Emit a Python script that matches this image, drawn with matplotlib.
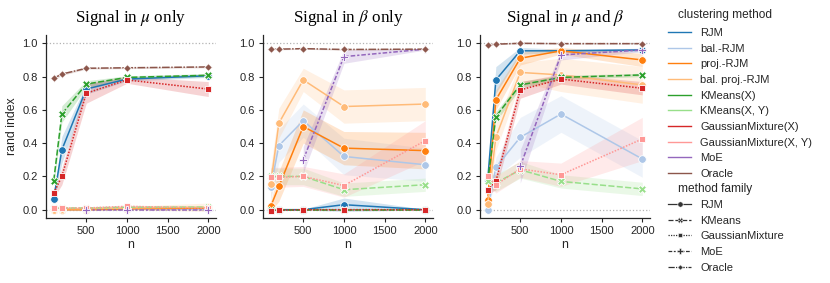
import numpy as np
import matplotlib
matplotlib.use("Agg")
from matplotlib import pyplot as plt
from matplotlib.lines import Line2D

plt.rcParams['font.family'] = ['Liberation Sans', 'DejaVu Sans']
plt.rcParams['mathtext.fontset'] = 'stix'

n_values = [100, 200, 500, 1000, 2000]

methods = ['RJM', 'bal.-RJM', 'proj.-RJM', 'bal. proj.-RJM', 'KMeans(X)', 'KMeans(X, Y)',
           'GaussianMixture(X)', 'GaussianMixture(X, Y)', 'MoE', 'Oracle']
colors = ['#1f77b4', '#aec7e8', '#ff7f0e', '#ffbb78', '#2ca02c', '#98df8a',
          '#d62728', '#ff9896', '#9467bd', '#8c564b']
families = ['RJM', 'RJM', 'RJM', 'RJM', 'KMeans', 'KMeans',
            'GaussianMixture', 'GaussianMixture', 'MoE', 'Oracle']
family_names = ['RJM', 'KMeans', 'GaussianMixture', 'MoE', 'Oracle']
family_markers = {'RJM': 'o', 'KMeans': 'X', 'GaussianMixture': (4, 0, 45), 'MoE': 'P', 'Oracle': (4, 0, 0)}
family_dashes = {'RJM': (None, None), 'KMeans': (4, 1.5), 'GaussianMixture': (1, 1),
                 'MoE': (3, 1.25, 1.5, 1.25), 'Oracle': (5, 1, 1, 1)}
family_msize = {'RJM': 5.5, 'KMeans': 5.5, 'GaussianMixture': 6.5, 'MoE': 6, 'Oracle': 5.5}

nan = np.nan

# Signal in mu only: mean rand index and CI half widths
mu_mean = {
    'RJM': [0.065, 0.36, 0.725, 0.785, 0.805],
    'bal.-RJM': [0.0, 0.0, 0.0, 0.005, 0.005],
    'proj.-RJM': [0.0, 0.0, 0.0, 0.005, 0.01],
    'bal. proj.-RJM': [0.0, 0.005, 0.005, 0.01, 0.015],
    'KMeans(X)': [0.175, 0.575, 0.755, 0.795, 0.808],
    'KMeans(X, Y)': [0.01, 0.01, 0.01, 0.015, 0.015],
    'GaussianMixture(X)': [0.10, 0.20, 0.70, 0.78, 0.725],
    'GaussianMixture(X, Y)': [0.01, 0.01, 0.01, 0.02, 0.01],
    'MoE': [nan, nan, 0.0, 0.0, 0.0],
    'Oracle': [0.79, 0.815, 0.85, 0.853, 0.858],
}
mu_ci = {
    'RJM': [0.02, 0.08, 0.03, 0.012, 0.01],
    'bal.-RJM': [0.005, 0.005, 0.005, 0.005, 0.005],
    'proj.-RJM': [0.005, 0.005, 0.005, 0.005, 0.01],
    'bal. proj.-RJM': [0.005, 0.005, 0.008, 0.01, 0.025],
    'KMeans(X)': [0.03, 0.05, 0.02, 0.01, 0.01],
    'KMeans(X, Y)': [0.005, 0.005, 0.005, 0.008, 0.008],
    'GaussianMixture(X)': [0.03, 0.05, 0.06, 0.02, 0.045],
    'GaussianMixture(X, Y)': [0.008, 0.008, 0.008, 0.008, 0.01],
    'MoE': [nan, nan, 0.002, 0.002, 0.002],
    'Oracle': [0.01, 0.008, 0.005, 0.005, 0.005],
}

# Signal in beta only
beta_mean = {
    'RJM': [0.0, 0.0, 0.0, 0.03, 0.0],
    'bal.-RJM': [0.135, 0.385, 0.535, 0.32, 0.27],
    'proj.-RJM': [0.02, 0.14, 0.50, 0.37, 0.355],
    'bal. proj.-RJM': [0.155, 0.52, 0.78, 0.62, 0.635],
    'KMeans(X)': [0.0, 0.0, 0.0, 0.0, 0.0],
    'KMeans(X, Y)': [0.20, 0.20, 0.20, 0.12, 0.15],
    'GaussianMixture(X)': [-0.005, -0.003, 0.0, 0.0, 0.0],
    'GaussianMixture(X, Y)': [0.195, 0.195, 0.20, 0.145, 0.415],
    'MoE': [nan, nan, 0.30, 0.92, 0.965],
    'Oracle': [0.965, 0.965, 0.968, 0.963, 0.965],
}
beta_ci = {
    'RJM': [0.002, 0.002, 0.003, 0.04, 0.002],
    'bal.-RJM': [0.08, 0.1, 0.1, 0.11, 0.1],
    'proj.-RJM': [0.03, 0.09, 0.1, 0.1, 0.11],
    'bal. proj.-RJM': [0.1, 0.09, 0.07, 0.1, 0.1],
    'KMeans(X)': [0.002, 0.002, 0.002, 0.002, 0.002],
    'KMeans(X, Y)': [0.05, 0.05, 0.05, 0.04, 0.04],
    'GaussianMixture(X)': [0.003, 0.003, 0.003, 0.003, 0.003],
    'GaussianMixture(X, Y)': [0.06, 0.06, 0.06, 0.07, 0.12],
    'MoE': [nan, nan, 0.08, 0.04, 0.005],
    'Oracle': [0.004, 0.004, 0.004, 0.004, 0.004],
}

# Signal in mu and beta
both_mean = {
    'RJM': [0.18, 0.78, 0.955, 0.955, 0.96],
    'bal.-RJM': [0.0, 0.255, 0.435, 0.575, 0.305],
    'proj.-RJM': [0.06, 0.66, 0.91, 0.955, 0.90],
    'bal. proj.-RJM': [0.035, 0.435, 0.825, 0.81, 0.75],
    'KMeans(X)': [0.17, 0.56, 0.75, 0.795, 0.81],
    'KMeans(X, Y)': [0.17, 0.16, 0.24, 0.17, 0.125],
    'GaussianMixture(X)': [0.12, 0.17, 0.72, 0.785, 0.73],
    'GaussianMixture(X, Y)': [0.20, 0.15, 0.245, 0.21, 0.425],
    'MoE': [nan, nan, 0.26, 0.93, 0.96],
    'Oracle': [0.99, 0.995, 1.0, 0.998, 0.998],
}
both_ci = {
    'RJM': [0.05, 0.08, 0.02, 0.01, 0.01],
    'bal.-RJM': [0.01, 0.06, 0.12, 0.11, 0.11],
    'proj.-RJM': [0.03, 0.06, 0.04, 0.02, 0.04],
    'bal. proj.-RJM': [0.02, 0.08, 0.06, 0.1, 0.11],
    'KMeans(X)': [0.02, 0.03, 0.02, 0.012, 0.01],
    'KMeans(X, Y)': [0.04, 0.05, 0.05, 0.04, 0.04],
    'GaussianMixture(X)': [0.03, 0.05, 0.05, 0.03, 0.04],
    'GaussianMixture(X, Y)': [0.04, 0.05, 0.05, 0.07, 0.13],
    'MoE': [nan, nan, 0.1, 0.03, 0.01],
    'Oracle': [0.005, 0.004, 0.002, 0.002, 0.002],
}

titles = [r'Signal in $\mu$ only', r'Signal in $\beta$ only', r'Signal in $\mu$ and $\beta$']
panel_means = [mu_mean, beta_mean, both_mean]
panel_cis = [mu_ci, beta_ci, both_ci]

fig = plt.figure(figsize=(8.3, 2.83), dpi=100)
lefts = [46, 263, 480]
ink = '#262626'

for i in range(3):
    ax = fig.add_axes([lefts[i] / 830, 1 - 218 / 283, 170 / 830, 183 / 283])
    ax.axhline(0, color='0.7', linestyle=':', linewidth=0.9, zorder=0)
    ax.axhline(1, color='0.7', linestyle=':', linewidth=0.9, zorder=0)
    for m, c, fam in zip(methods, colors, families):
        y = np.array(panel_means[i][m], dtype=float)
        e = np.array(panel_cis[i][m], dtype=float)
        x = np.array(n_values, dtype=float)
        ok = ~np.isnan(y)
        ax.fill_between(x[ok], y[ok] - e[ok], y[ok] + e[ok], color=c, alpha=0.2, linewidth=0)
        line, = ax.plot(x[ok], y[ok], color=c, linewidth=1.1, marker=family_markers[fam],
                        markersize=family_msize[fam], markeredgecolor='white', markeredgewidth=0.6)
        if family_dashes[fam][0] is not None:
            line.set_dashes(family_dashes[fam])
    ax.set_xlim(5, 2095)
    ax.set_ylim(-0.05, 1.05)
    ax.set_xticks([500, 1000, 1500, 2000])
    ax.set_yticks([0, 0.2, 0.4, 0.6, 0.8, 1.0])
    ax.set_yticklabels(['0.0', '0.2', '0.4', '0.6', '0.8', '1.0'])
    ax.tick_params(labelsize=8, length=3, width=0.8, colors=ink, pad=3)
    for s in ['top', 'right']:
        ax.spines[s].set_visible(False)
    for s in ['left', 'bottom']:
        ax.spines[s].set_color(ink)
        ax.spines[s].set_linewidth(0.9)
    ax.set_xlabel('n', fontsize=8.8, color=ink, labelpad=2)
    if i == 0:
        ax.set_ylabel('rand index', fontsize=8.8, color=ink, labelpad=3)
    ax.set_title(titles[i], fontsize=12.3, family='Liberation Serif', pad=9)

# legend for clustering method
method_handles = [Line2D([], [], color=c, linewidth=1.0) for c in colors]
fig.legend(method_handles, methods, loc='upper left', bbox_to_anchor=(668 / 830, 1 - 28 / 283),
           frameon=False, fontsize=8, handlelength=2.1, handletextpad=0.8, labelspacing=0.51,
           borderpad=0, borderaxespad=0, labelcolor=ink)
fig.text(678 / 830, 1 - 15 / 283, 'clustering method', fontsize=8.6, color=ink, va='center')

family_handles = []
for fam in family_names:
    h = Line2D([], [], color='0.2', linewidth=0.9, marker=family_markers[fam],
               markersize=family_msize[fam] * 0.7, markeredgecolor='white', markeredgewidth=0.4)
    if family_dashes[fam][0] is not None:
        h.set_dashes(family_dashes[fam])
    family_handles.append(h)
fig.legend(family_handles, family_names, loc='upper left', bbox_to_anchor=(668 / 830, 1 - 200 / 283),
           frameon=False, fontsize=8, handlelength=2.1, handletextpad=0.8, labelspacing=0.51,
           borderpad=0, borderaxespad=0, labelcolor=ink)
fig.text(678 / 830, 1 - 189 / 283, 'method family', fontsize=8.6, color=ink, va='center')

fig.savefig('out.png', dpi=100)
